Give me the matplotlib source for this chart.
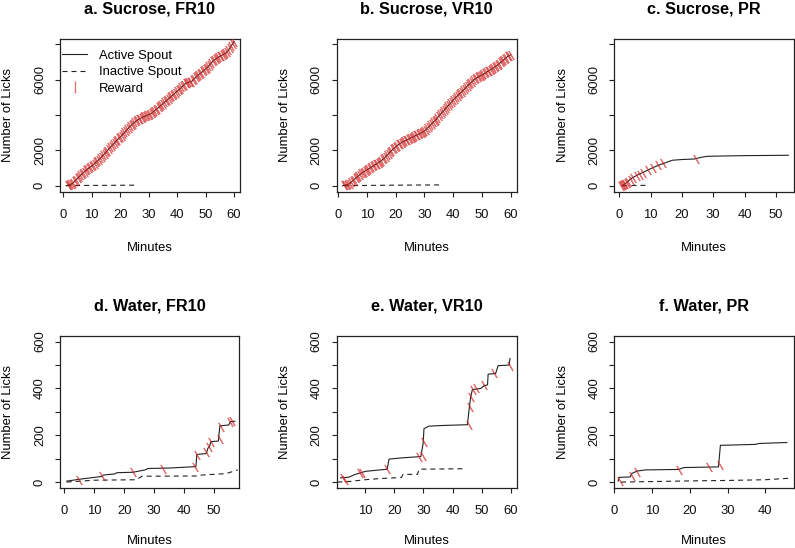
import matplotlib
matplotlib.use("Agg")
import matplotlib.pyplot as plt
from matplotlib.lines import Line2D

plt.rcParams['font.family'] = ['Liberation Sans', 'DejaVu Sans']

# ---------------- data ----------------
titles = ["a. Sucrose, FR10", "b. Sucrose, VR10", "c. Sucrose, PR",
          "d. Water, FR10", "e. Water, VR10", "f. Water, PR"]

# a. Sucrose FR10
a_act_min = [1, 2, 3, 4, 5, 6, 7, 8, 9, 10, 11, 12, 13, 14, 15, 16, 17, 18, 19, 20,
             21, 22, 23, 24, 25, 26, 27, 28, 29, 30, 31, 32, 33, 34, 35, 36, 37, 38, 39, 40,
             41, 42, 43, 44, 45, 46, 47, 48, 49, 50, 51, 52, 53, 54, 55, 56, 57, 58, 59, 60]
a_act_lk = [0, 50, 100, 250, 420, 580, 730, 870, 1000, 1110, 1250, 1400, 1550, 1720, 1900,
            2080, 2250, 2420, 2600, 2750, 2920, 3100, 3280, 3440, 3580, 3700, 3800, 3880, 3950,
            4020, 4100, 4230, 4360, 4500, 4640, 4780, 4920, 5060, 5200, 5340, 5480, 5640, 5790,
            5850, 5880, 6050, 6200, 6330, 6460, 6600, 6750, 6950, 7100, 7220, 7320, 7400, 7480,
            7650, 7900, 8150]
a_rew_min = [1.5, 2, 2.5, 3, 3.5, 4, 4.5, 5, 5.5, 6, 6.5, 7, 7.5, 8, 8.5, 9, 9.5, 10, 10.5,
             11, 11.5, 12, 12.5, 13, 13.5, 14, 14.5, 15, 15.5, 16, 16.5, 17, 17.5, 18, 18.5,
             19, 19.5, 20, 20.5, 21, 21.5, 22, 22.5, 23, 23.5, 24, 24.5, 25, 25.5, 26, 26.5,
             27, 27.5, 28, 28.5, 29, 29.5, 30, 30.5, 31, 31.5, 32, 32.5, 33, 33.5, 34, 34.5,
             35, 35.5, 36, 36.5, 37, 37.5, 38, 38.5, 39, 39.5, 40, 40.5, 41, 41.5, 42, 42.5,
             43, 43.5, 44, 44.5, 45, 45.5, 46, 46.5, 47, 47.5, 48, 48.5, 49, 49.5, 50, 50.5,
             51, 51.5, 52, 52.5, 53, 53.5, 54, 54.5, 55, 55.5, 56, 56.5, 57, 57.5, 58, 58.5,
             59, 59.5, 60]
a_rew_lk = [25, 50, 75, 100, 175, 250, 335, 420, 500, 580, 655, 730, 800, 870, 935, 1000,
            1055, 1110, 1180, 1250, 1325, 1400, 1475, 1550, 1635, 1720, 1810, 1900, 1990, 2080,
            2165, 2250, 2335, 2420, 2510, 2600, 2675, 2750, 2835, 2920, 3010, 3100, 3190, 3280,
            3360, 3440, 3510, 3580, 3640, 3700, 3750, 3800, 3840, 3880, 3915, 3950, 3985, 4020,
            4060, 4100, 4165, 4230, 4295, 4360, 4430, 4500, 4570, 4640, 4710, 4780, 4850, 4920,
            4990, 5060, 5130, 5200, 5270, 5340, 5410, 5480, 5560, 5640, 5715, 5790, 5820, 5850,
            5865, 5880, 5965, 6050, 6125, 6200, 6265, 6330, 6395, 6460, 6530, 6600, 6675, 6750,
            6850, 6950, 7025, 7100, 7160, 7220, 7270, 7320, 7360, 7400, 7440, 7480, 7565, 7650,
            7775, 7900, 8025, 8150]
a_ina_min = [1, 5, 15, 26]
a_ina_lk = [0, 10, 20, 30]

# b. Sucrose VR10
b_act_min = [1.5, 2, 3, 4, 5, 6, 7, 8, 9, 10, 11, 12, 13, 14, 15, 16, 17, 18, 19, 20,
             21, 22, 23, 24, 25, 26, 27, 28, 29, 30, 31, 32, 33, 34, 35, 36, 37, 38, 39, 40,
             41, 42, 43, 44, 45, 46, 47, 48, 49, 50, 51, 52, 53, 54, 55, 56, 57, 58, 59, 60]
b_act_lk = [0, 20, 60, 120, 280, 420, 560, 690, 800, 900, 1000, 1100, 1200, 1310, 1420,
            1560, 1730, 1900, 2060, 2200, 2330, 2440, 2520, 2600, 2680, 2760, 2840, 2920, 3000,
            3100, 3250, 3420, 3580, 3740, 3950, 4120, 4300, 4480, 4660, 4850, 5010, 5160, 5320,
            5480, 5650, 5800, 5960, 6080, 6180, 6260, 6350, 6460, 6560, 6660, 6780, 6900, 7040,
            7180, 7320, 7400]
b_rew_min = [2, 2.5, 3, 3.5, 4, 4.5, 5, 5.5, 6, 6.5, 7, 7.5, 8, 8.5, 9, 9.5, 10, 10.5,
             11, 11.5, 12, 12.5, 13, 13.5, 14, 14.5, 15, 15.5, 16, 16.5, 17, 17.5, 18, 18.5,
             19, 19.5, 20, 20.5, 21, 21.5, 22, 22.5, 23, 23.5, 24, 24.5, 25, 25.5, 26, 26.5,
             27, 27.5, 28, 28.5, 29, 29.5, 30, 30.5, 31, 31.5, 32, 32.5, 33, 33.5, 34, 34.5,
             35, 35.5, 36, 36.5, 37, 37.5, 38, 38.5, 39, 39.5, 40, 40.5, 41, 41.5, 42, 42.5,
             43, 43.5, 44, 44.5, 45, 45.5, 46, 46.5, 47, 47.5, 48, 48.5, 49, 49.5, 50, 50.5,
             51, 51.5, 52, 52.5, 53, 53.5, 54, 54.5, 55, 55.5, 56, 56.5, 57, 57.5, 58, 58.5,
             59, 59.5, 60]
b_rew_lk = [20, 40, 60, 90, 120, 200, 280, 350, 420, 490, 560, 625, 690, 745, 800, 850, 900,
            950, 1000, 1050, 1100, 1150, 1200, 1255, 1310, 1365, 1420, 1490, 1560, 1645, 1730,
            1815, 1900, 1980, 2060, 2130, 2200, 2265, 2330, 2385, 2440, 2480, 2520, 2560, 2600,
            2640, 2680, 2720, 2760, 2800, 2840, 2880, 2920, 2960, 3000, 3050, 3100, 3175, 3250,
            3335, 3420, 3500, 3580, 3660, 3740, 3845, 3950, 4035, 4120, 4210, 4300, 4390, 4480,
            4570, 4660, 4755, 4850, 4930, 5010, 5085, 5160, 5240, 5320, 5400, 5480, 5565, 5650,
            5725, 5800, 5880, 5960, 6020, 6080, 6130, 6180, 6220, 6260, 6305, 6350, 6405, 6460,
            6510, 6560, 6610, 6660, 6720, 6780, 6840, 6900, 6970, 7040, 7110, 7180, 7250, 7320,
            7360, 7400]
b_ina_min = [2, 10, 20, 36]
b_ina_lk = [0, 15, 30, 45]

# c. Sucrose PR
c_act_min = [0.8, 1.5, 2.5, 3.5, 4.0, 6, 8, 10, 12, 14, 16, 17, 20, 24, 26, 28, 30, 40, 54]
c_act_lk = [0, 60, 200, 360, 430, 620, 790, 960, 1120, 1250, 1380, 1440, 1480, 1510, 1600,
            1660, 1670, 1700, 1720]
c_rew_min = [0.5, 0.8, 1.1, 1.5, 1.9, 2.4, 2.9, 3.6, 4.4, 5.5, 6.6, 7.6, 9.3, 10.9, 12.5, 13.9, 24.5]
c_rew_lk = [10, 20, 40, 70, 110, 170, 230, 310, 420, 540, 630, 720, 870, 1020, 1170, 1290, 1520]
c_ina_min = [1, 4, 9]
c_ina_lk = [0, 10, 20]

# d. Water FR10
d_act_min = [0.8, 5, 10, 12.5, 13, 17, 17.5, 23, 27, 28, 35, 44, 44.3, 47.5, 48, 48.5, 49,
             51.5, 52, 55, 55.5, 57]
d_act_lk = [4, 12, 20, 24, 30, 35, 40, 42, 52, 58, 60, 66, 118, 122, 145, 150, 173, 175,
            240, 244, 258, 260]
d_rew_min = [4.8, 12.7, 23, 33, 43.6, 44.2, 47.5, 48.3, 49, 51.9, 52.5, 55.3, 56.1]
d_rew_lk = [11, 27, 44, 58, 65, 115, 129, 150, 171, 183, 236, 256, 263]
d_ina_min = [0.8, 10, 24, 26, 44, 46, 54, 58]
d_ina_lk = [0, 8, 10, 25, 26, 30, 36, 52]

# e. Water VR10
e_act_min = [1.6, 4.5, 6.4, 10.2, 17.6, 18.2, 22.2, 29.1, 29.9, 30.2, 31.9, 37, 45.1, 45.7,
             46.2, 46.8, 49.7, 50.8, 52, 52.2, 54.8, 55.6, 59.4, 59.7]
e_act_lk = [18, 21, 32, 46, 55, 98, 103, 109, 164, 228, 239, 242, 245, 313, 362, 395, 400,
            412, 415, 461, 464, 497, 500, 528]
e_rew_min = [2.3, 3.0, 8.3, 9.1, 17.6, 28.6, 30.0, 30.2, 45.6, 45.9, 46.4, 47.1, 48.2, 50.8, 54.3, 59.8]
e_rew_lk = [18, 10, 38, 40, 55, 108, 110, 170, 245, 320, 365, 395, 400, 415, 465, 497]
e_ina_min = [0.5, 5, 10, 15, 20, 22.5, 23, 28, 28.5, 43.5]
e_ina_lk = [0, 3, 10, 15, 18, 20, 33, 33, 55, 57]

# f. Water PR
f_act_min = [1, 1.3, 4.2, 4.7, 6, 8.2, 17.1, 18.4, 27.6, 28.1, 37.4, 38.3, 45.7]
f_act_lk = [4, 20, 22, 37, 47, 52, 54, 62, 65, 157, 161, 165, 169]
f_rew_min = [1.5, 4.6, 6.1, 17.2, 25.1, 28.0]
f_rew_lk = [4, 24, 45, 53, 63, 72]
f_ina_min = [1.8, 20, 30, 40, 47]
f_ina_lk = [0, 5, 7, 10, 17]

panels = [
    (a_act_min, a_act_lk, a_ina_min, a_ina_lk, a_rew_min, a_rew_lk),
    (b_act_min, b_act_lk, b_ina_min, b_ina_lk, b_rew_min, b_rew_lk),
    (c_act_min, c_act_lk, c_ina_min, c_ina_lk, c_rew_min, c_rew_lk),
    (d_act_min, d_act_lk, d_ina_min, d_ina_lk, d_rew_min, d_rew_lk),
    (e_act_min, e_act_lk, e_ina_min, e_ina_lk, e_rew_min, e_rew_lk),
    (f_act_min, f_act_lk, f_ina_min, f_ina_lk, f_rew_min, f_rew_lk),
]

xticks_list = [[0, 10, 20, 30, 40, 50, 60], [0, 10, 20, 30, 40, 50, 60], [0, 10, 20, 30, 40, 50],
               [0, 10, 20, 30, 40, 50], [10, 20, 30, 40, 50, 60], [0, 10, 20, 30, 40]]
top_yticks = [0, 2000, 4000, 6000, 8000]
top_ylabels = ["0", "2000", "", "6000", ""]
bot_yticks = [0, 100, 200, 300, 400, 500, 600]
bot_ylabels = ["0", "", "200", "", "400", "", "600"]

# ---------------- layout (pixels) ----------------
W, H = 795, 548
boxes = [(60, 240, 39.3, 191.7), (336.7, 516.7, 39.3, 191.7), (614.3, 794, 39.3, 191.7),
         (60, 239.3, 336, 487.7), (336.7, 516.7, 336, 487.7), (614.3, 794, 336, 487.7)]
xlims = [(-1.16, 62.1), (-0.56, 62.1), (-1.6, 55.8), (-1.44, 58.5), (0.27, 62.0), (0.0, 47.6)]
top_ylim = (-340, 8280)
bot_ylim = (-24, 624)

fig = plt.figure(figsize=(W / 100, H / 100), dpi=100)

FS = 9.4
reward_color = (0.82, 0.12, 0.12, 0.62)
line_color = '#222222'

for i, (box, data) in enumerate(zip(boxes, panels)):
    l, r, t, b = box
    ax = fig.add_axes([l / W, 1 - b / H, (r - l) / W, (b - t) / H])
    am, al, im, il, rm, rl = data
    ax.plot(am, al, color=line_color, lw=0.8, zorder=2)
    ax.plot(im, il, color=line_color, lw=0.8, dashes=(4.5, 3.6), zorder=2)
    ax.plot(rm, rl, linestyle='none', marker=(2, 2, 30), markersize=7.5,
            markeredgewidth=0.8, color=reward_color, zorder=3)
    ax.set_xlim(*xlims[i])
    ax.set_xticks(xticks_list[i])
    ax.set_xticklabels([str(v) for v in xticks_list[i]])
    if i < 3:
        ax.set_ylim(*top_ylim)
        ax.set_yticks(top_yticks)
        ax.set_yticklabels(top_ylabels)
    else:
        ax.set_ylim(*bot_ylim)
        ax.set_yticks(bot_yticks)
        ax.set_yticklabels(bot_ylabels)
    ax.tick_params(axis='both', direction='out', length=3.6, width=0.8, labelsize=FS,
                   color='#222222', labelcolor='#111111')
    ax.tick_params(axis='x', pad=8.6)
    ax.tick_params(axis='y', pad=6.5, labelrotation=90)
    for lab in ax.get_yticklabels():
        lab.set_verticalalignment('center')
    for s in ax.spines.values():
        s.set_linewidth(0.9)
        s.set_color('#222222')

    cx = (l + r) / 2
    fig.text(cx / W, 1 - (t - 25.7) / H, titles[i], ha='center', va='baseline',
             fontsize=11.7, fontweight='bold')
    xlab_off = 59.3 if i < 3 else 56.0
    fig.text(cx / W, 1 - (b + xlab_off) / H, "Minutes", ha='center', va='baseline', fontsize=FS)
    fig.text((l - 48.5) / W, 1 - ((t + b) / 2) / H, "Number of Licks", ha='center',
             va='baseline', rotation=90, rotation_mode='anchor', fontsize=FS)

    if i == 0:
        handles = [Line2D([], [], color=line_color, lw=0.8),
                   Line2D([], [], color=line_color, lw=0.8, dashes=(4.5, 3.6)),
                   Line2D([], [], linestyle='none', marker='|', markersize=8,
                          markeredgewidth=1.0, color=reward_color)]
        ax.legend(handles, ["Active Spout", "Inactive Spout", "Reward"], loc='upper left',
                  bbox_to_anchor=(2.0 / 180, 1 - 10.5 / 152.4),
                  frameon=False, fontsize=FS, handlelength=1.95, handletextpad=0.9,
                  borderaxespad=0.0, borderpad=0.0, labelspacing=0.33)

fig.savefig("out.png", dpi=100)
